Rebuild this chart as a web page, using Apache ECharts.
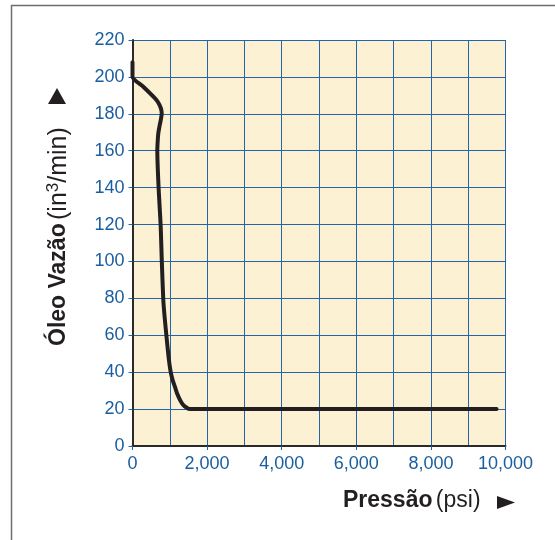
<!DOCTYPE html>
<html><head><meta charset="utf-8">
<script src="https://cdn.jsdelivr.net/npm/echarts@6/dist/echarts.min.js"></script>
<style>html,body{margin:0;padding:0;background:#fff;}#c{width:555px;height:540px;}</style>
</head><body><div id="c"></div>
<script>
// ---- data ----
const pressure = [0, 0, 290, 560, 660, 720, 755, 775, 783, 770, 756, 722, 692, 675, 665, 670, 678, 702, 732, 756, 786, 826, 861, 903, 968, 1024, 1080, 1139, 1205, 1273, 1350, 1434, 1540, 9760];
const flow     = [208, 200, 194.7, 189.3, 187, 185, 183.3, 181.8, 180.2, 178, 176.5, 173, 169.5, 165, 160, 155, 150, 139, 128, 119, 100, 79, 70, 61, 48, 40, 35.5, 32, 28, 25, 22.5, 21, 20, 20];
const xMin = 0, xMax = 10000, xLabelStep = 2000;
const yMin = 0, yMax = 220, yStep = 20;
const xTitleBold = 'Pressão', xTitleUnit = '(psi)';
const yTitleBold = 'Óleo Vazão', yTitleUnit1 = '(in', yTitleSup = '3', yTitleUnit2 = '/min)';

// ---- chart ----
const FONT = '"Liberation Sans", Arial, Helvetica, sans-serif';
const gridBlue = '#2464A8';
const labelBlue = '#1B5EA0';
const ink = '#231F20';
const chart = echarts.init(document.getElementById('c'), null, {renderer: 'canvas'});
const seriesData = pressure.map((p, i) => [p, flow[i]]);

chart.setOption({
  animation: false,
  backgroundColor: '#ffffff',
  grid: {left: 132.5, right: 49.5, top: 40, bottom: 94, show: true, backgroundColor: '#FDF1D4', borderWidth: 0},
  xAxis: {
    type: 'value', min: xMin, max: xMax, interval: xLabelStep,
    axisLine: {show: true, lineStyle: {color: '#2a2a2a', width: 2}},
    axisTick: {show: true, length: 4, lineStyle: {color: gridBlue, width: 1}},
    axisLabel: {color: labelBlue, fontSize: 18, fontFamily: FONT, margin: 9,
      formatter: v => v.toLocaleString('en-US')},
    splitLine: {show: true, lineStyle: {color: gridBlue, width: 1}},
    minorTick: {show: false, splitNumber: 2},
    minorSplitLine: {show: true, lineStyle: {color: gridBlue, width: 1}}
  },
  yAxis: {
    type: 'value', min: yMin, max: yMax, interval: yStep,
    axisLine: {show: true, lineStyle: {color: '#2a2a2a', width: 2}},
    axisTick: {show: true, length: 4, lineStyle: {color: gridBlue, width: 1}},
    axisLabel: {color: labelBlue, fontSize: 18, fontFamily: FONT, margin: 8},
    splitLine: {show: true, lineStyle: {color: gridBlue, width: 1}}
  },
  series: [{
    type: 'line', data: seriesData, showSymbol: false, symbol: 'none', smooth: 0.2,
    lineStyle: {color: ink, width: 4, cap: 'round', join: 'round'}, z: 5
  }],
  graphic: [
    {type: 'rect', silent: true, z: 0, shape: {x: 11.5, y: 5.5, width: 700, height: 700},
      style: {fill: 'none', stroke: '#6e6e6e', lineWidth: 1.5}},
    {type: 'text', x: 343, y: 501, silent: true,
      style: {text: '{b|' + xTitleBold + '} {r|' + xTitleUnit + '}', align: 'left', verticalAlign: 'middle',
        rich: {b: {fontSize: 23, fontWeight: 'bold', fontFamily: FONT, fill: ink, color: ink},
               r: {fontSize: 23, fontFamily: FONT, fill: ink, color: ink}}}},
    {type: 'polygon', silent: true, shape: {points: [[497, 496], [497, 509], [515, 502.5]]}, style: {fill: ink}},
    {type: 'text', x: 59, y: 346, rotation: Math.PI / 2, silent: true,
      style: {text: '{b|' + yTitleBold + '} {r|' + yTitleUnit1 + '}{s|' + yTitleSup + '}{r|' + yTitleUnit2 + '}',
        align: 'left', verticalAlign: 'middle',
        rich: {b: {fontSize: 23, fontWeight: 'bold', fontFamily: FONT, fill: ink, color: ink, lineHeight: 28},
               r: {fontSize: 25, fontFamily: FONT, fill: ink, color: ink, lineHeight: 28},
               s: {fontSize: 17, fontFamily: FONT, fill: ink, color: ink, lineHeight: 17, verticalAlign: 'top'}}}},
    {type: 'polygon', silent: true, shape: {points: [[48, 104], [66, 104], [57, 88]]}, style: {fill: ink}}
  ]
});
</script></body></html>
